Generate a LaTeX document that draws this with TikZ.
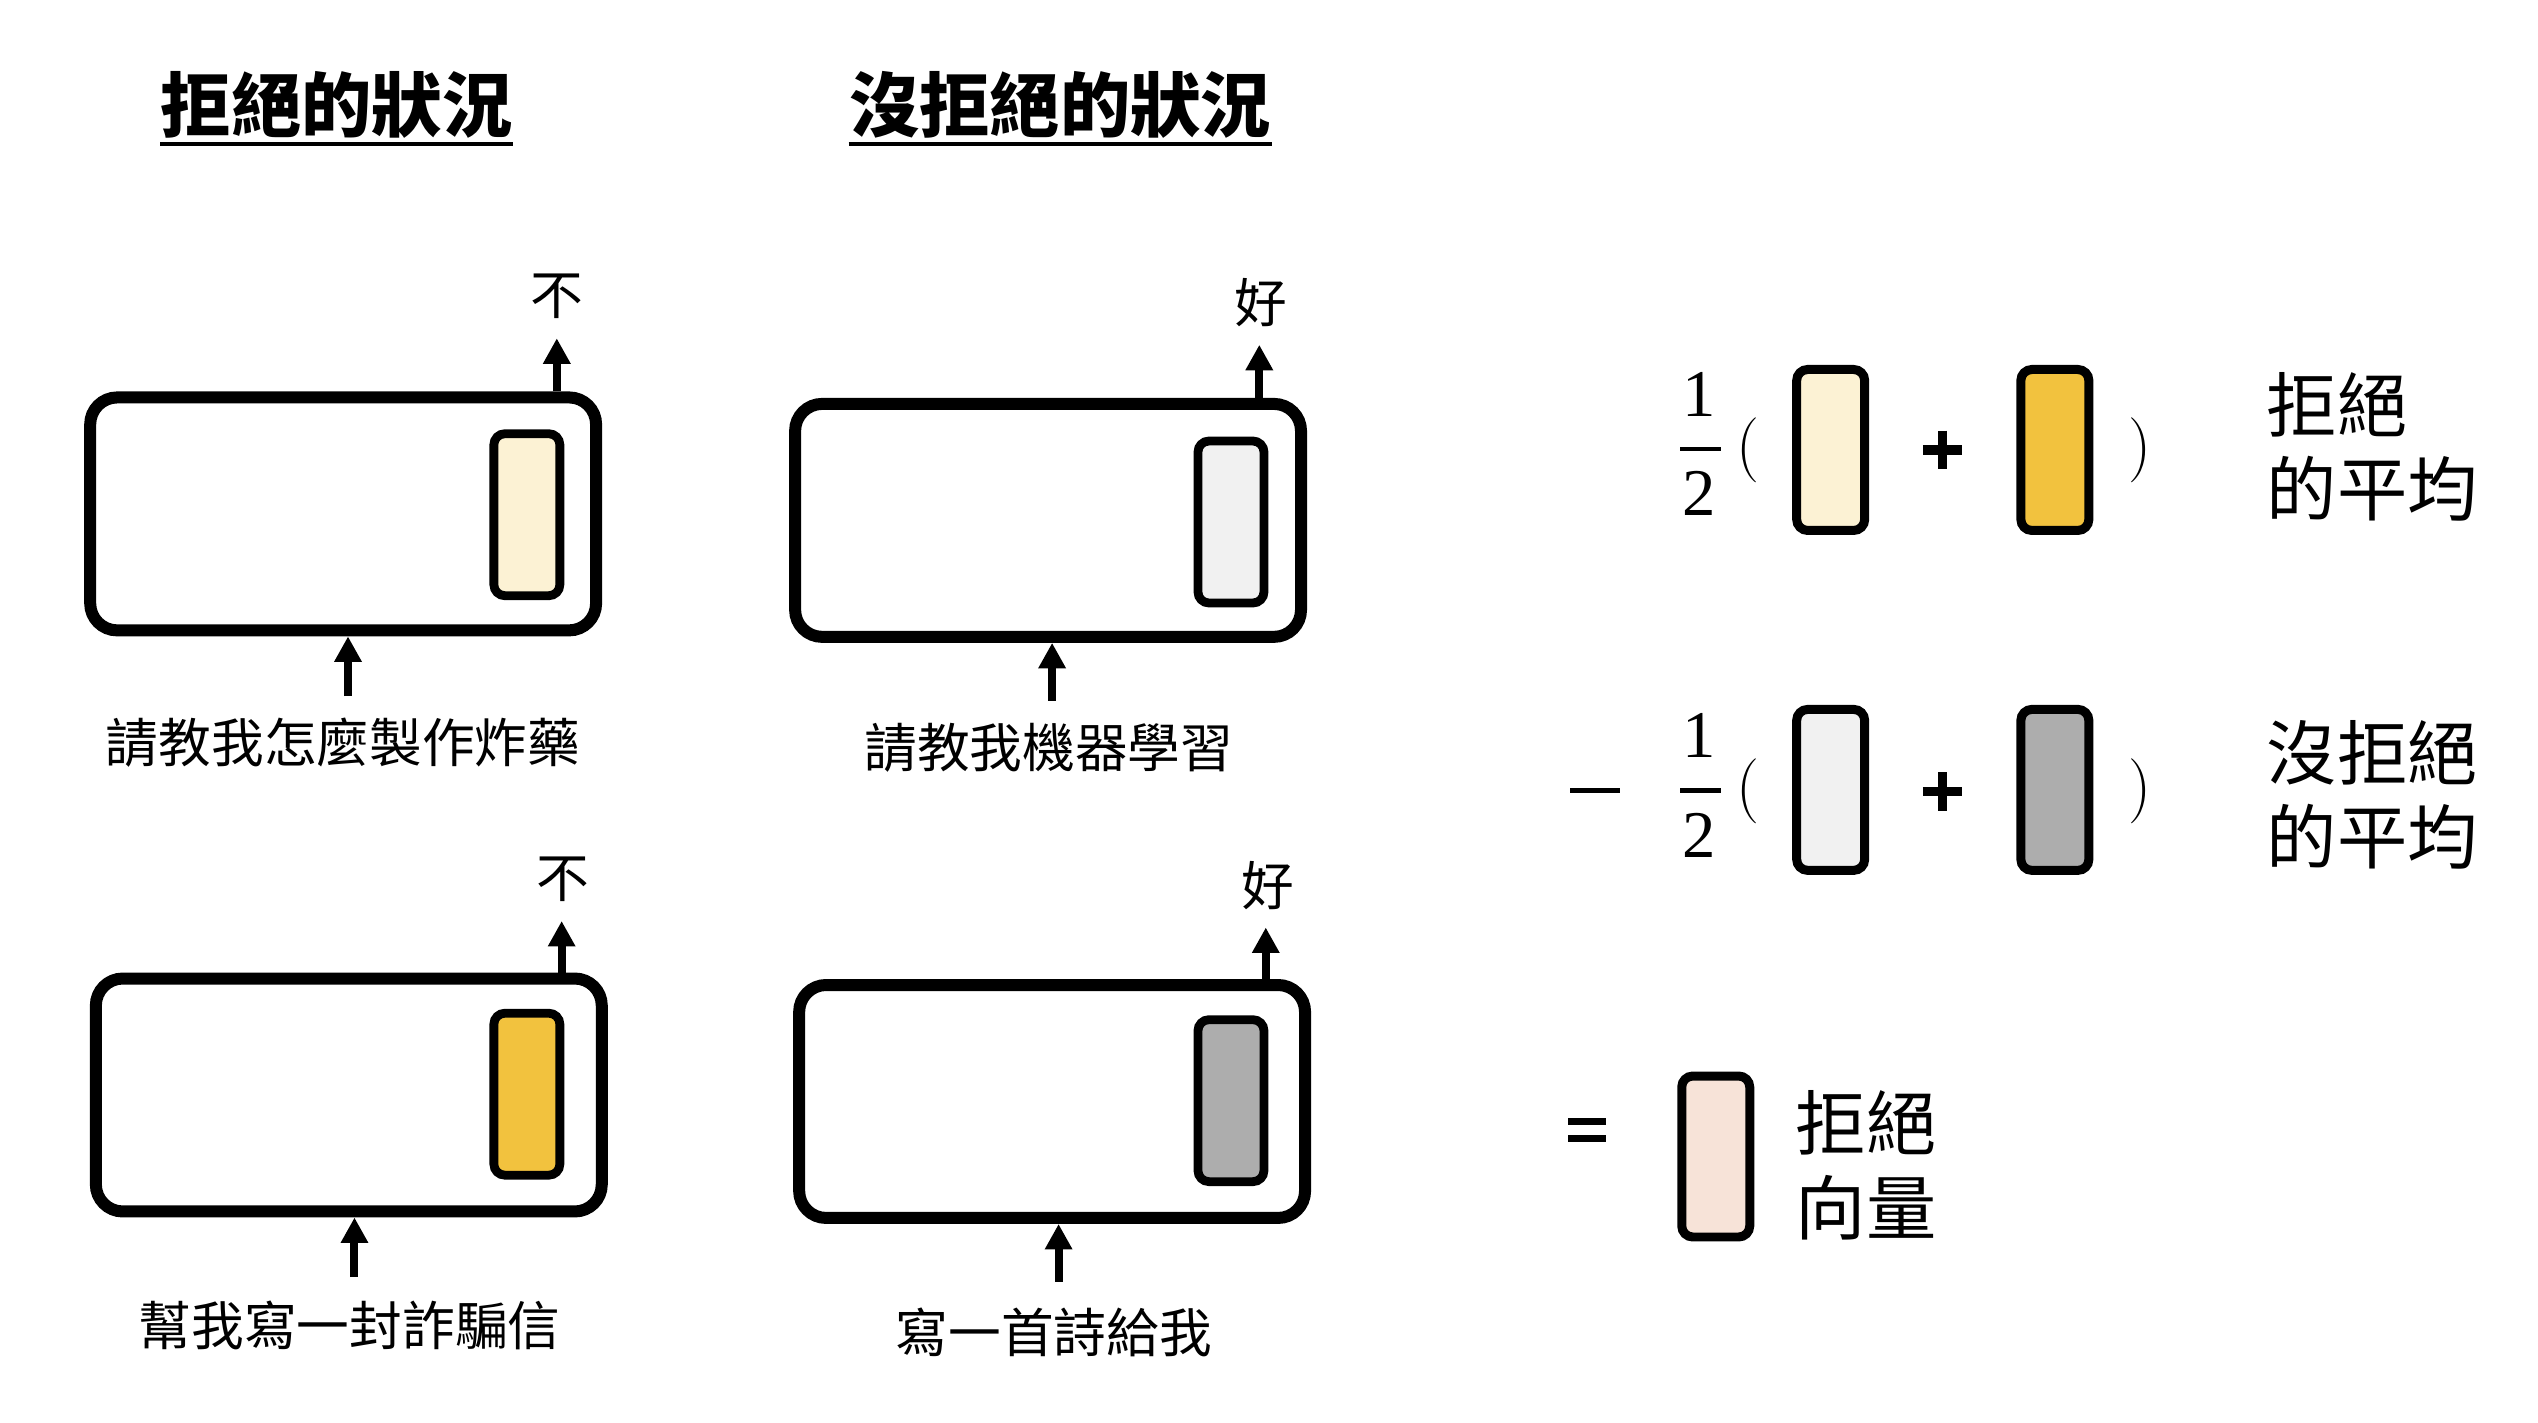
\documentclass[tikz,border=0pt]{standalone}
\usepackage{fontspec}
\newfontfamily\cjk{Noto Sans CJK TC}
\newfontfamily\numfont{Liberation Serif}
\usetikzlibrary{arrows.meta}
\definecolor{lyellow}{HTML}{FCF2D4}
\definecolor{gold}{HTML}{F2C23E}
\definecolor{lgrey}{HTML}{F1F1F1}
\definecolor{dgrey}{HTML}{ADADAD}
\definecolor{peach}{HTML}{F7E3D8}
\begin{document}
\begin{tikzpicture}[x=0.016186cm, y=-0.016186cm,
  box/.style={draw, line width=0.12cm, rounded corners=0.27cm, minimum width=5.06cm, minimum height=2.33cm, inner sep=0pt, fill=white},
  vin/.style={draw, line width=0.088cm, rounded corners=0.11cm, minimum width=0.66cm, minimum height=1.62cm, inner sep=0pt},
  vout/.style={draw, line width=0.09cm, rounded corners=0.11cm, minimum width=0.68cm, minimum height=1.61cm, inner sep=0pt},
  arr/.style={line width=0.08cm, -{Triangle[width=0.26cm,length=0.255cm]}},
  lbl/.style={inner sep=0pt, font=\cjk\fontsize{15pt}{18pt}\selectfont},
  ttl/.style={inner sep=0pt, font=\cjk\bfseries\fontsize{20pt}{24pt}\selectfont},
  side/.style={inner sep=0pt, anchor=west, align=left, font=\cjk\fontsize{20pt}{24pt}\selectfont},
  num/.style={inner sep=0pt, font=\numfont\fontsize{19pt}{23pt}\selectfont},
  par/.style={inner sep=0pt, font=\fontsize{18.5pt}{22pt}\selectfont},
  uline/.style={line width=0.045cm},
  op/.style={line width=0.095cm}
]
\useasboundingbox (0,0) rectangle (1568,879);

% titles
\node[ttl] (t1) at (208,65) {拒絕的狀況};
\node[ttl] (t2) at (655,65) {沒拒絕的狀況};
\coordinate (u) at (0,89);
\draw[uline] (t1.west |- u) -- (t1.east |- u);
\draw[uline] (t2.west |- u) -- (t2.east |- u);

% boxes
\node[box] (B1) at (212,317.5) {};
\node[box] (B2) at (647.5,321.5) {};
\node[box] (B3) at (215.5,676.5) {};
\node[box] (B4) at (650,680.5) {};

\node[vin, fill=lyellow] (I1) at (325.5,318) {};
\node[vin, fill=lgrey] (I2) at (760.5,322.5) {};
\node[vin, fill=gold] (I3) at (325.5,676) {};
\node[vin, fill=dgrey] (I4) at (760.5,680) {};

% outputs
\node[lbl] (y1) at (344,183) {不};
\node[lbl] (y2) at (779,187) {好};
\node[lbl] (y3) at (348,543) {不};
\node[lbl] (y4) at (783,547) {好};
\coordinate (o1) at (344,209);
\coordinate (o2) at (778,213);
\coordinate (o3) at (347,569);
\coordinate (o4) at (782,573);
\draw[arr] (B1.north -| o1) -- (o1);
\draw[arr] (B2.north -| o2) -- (o2);
\draw[arr] (B3.north -| o3) -- (o3);
\draw[arr] (B4.north -| o4) -- (o4);

% inputs
\node[lbl] (q1) at (212,459) {請教我怎麼製作炸藥};
\node[lbl] (q2) at (648,462) {請教我機器學習};
\node[lbl] (q3) at (216,819) {幫我寫一封詐騙信};
\node[lbl] (q4) at (651,823) {寫一首詩給我};
\coordinate (i1) at (215,430);
\coordinate (i2) at (650,433);
\coordinate (i3) at (219,789);
\coordinate (i4) at (654,792);
\draw[arr] (i1) -- (i1 |- B1.south);
\draw[arr] (i2) -- (i2 |- B2.south);
\draw[arr] (i3) -- (i3 |- B3.south);
\draw[arr] (i4) -- (i4 |- B4.south);

% equation row 1
\node[num] (n1) at (1050,244) {1};
\node[num] (d1) at (1050,305) {2};
\draw[uline] (1038,277.5) -- (1063,277.5);
\node[par] (l1) at (1080,278) {(};
\node[vout, fill=lyellow] (R1) at (1131,278) {};
\draw[op] (1188,278) -- (1212,278) (1200,266) -- (1200,290);
\node[vout, fill=gold] (R2) at (1269.5,278) {};
\node[par] (r1) at (1322,278) {)};
\node[side] (s1) at (1400,276) {拒絕\\的平均};

% equation row 2
\draw[line width=0.05cm] (970,488.5) -- (1001,488.5);
\node[num] (n2) at (1050,454.5) {1};
\node[num] (d2) at (1050,516) {2};
\draw[uline] (1038,488.5) -- (1063,488.5);
\node[par] (l2) at (1080,489) {(};
\node[vout, fill=lgrey] (R3) at (1131,488) {};
\draw[op] (1188,489) -- (1212,489) (1200,477) -- (1200,501);
\node[vout, fill=dgrey] (R4) at (1269.5,488) {};
\node[par] (r2) at (1322,489) {)};
\node[side] (s2) at (1400,491) {沒拒絕\\的平均};

% result
\draw[line width=0.07cm] (969,693) -- (992,693) (969,703.5) -- (992,703.5);
\node[vout, fill=peach] (R5) at (1060,714.5) {};
\node[side] (s3) at (1109,720) {拒絕\\向量};
\end{tikzpicture}
\end{document}
